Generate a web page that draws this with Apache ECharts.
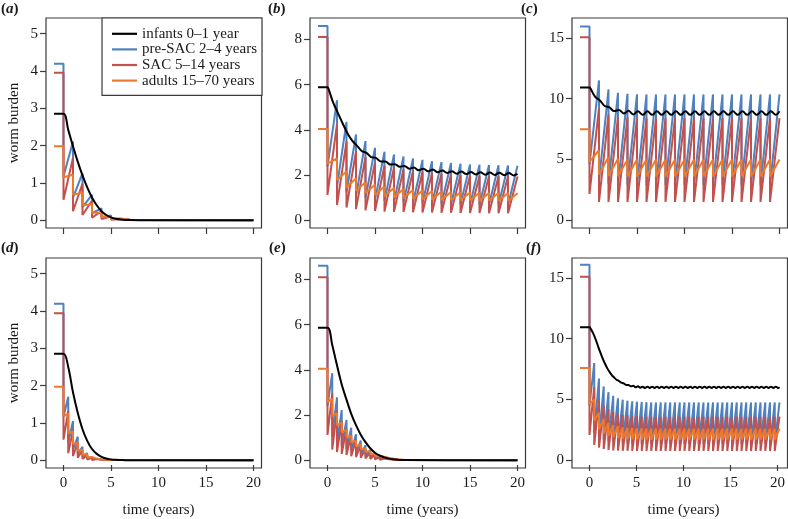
<!DOCTYPE html>
<html><head><meta charset="utf-8">
<script src="https://cdn.jsdelivr.net/npm/echarts@6/dist/echarts.min.js"></script>
<style>html,body{margin:0;padding:0;background:#fff}#c{width:788px;height:519px}</style>
</head><body><div id="c"></div><script>
// ---------- names & tick labels ----------
const seriesNames = ['infants 0–1 year', 'pre-SAC 2–4 years', 'SAC 5–14 years', 'adults 15–70 years'];
const panelLetters = ['a', 'b', 'c', 'd', 'e', 'f'];
const xTitle = 'time (years)';
const yTitle = 'worm burden';

// ---------- time points ----------
const yearTimes = [0,1,2,3,4,5,6,7,8,9,10,11,12,13,14,15,16,17,18,19,20];
const halfTimes = [0,0.5,1,1.5,2,2.5,3,3.5,4,4.5,5,5.5,6,6.5,7,7.5,8,8.5,9,9.5,10,10.5,11,11.5,12,12.5,13,13.5,14,14.5,15,15.5,16,16.5,17,17.5,18,18.5,19,19.5,20];
const smoothTimes = [-1,0,0.5,1,1.5,2,2.5,3,3.5,4,4.5,5,5.5,6,6.5,7,8,20];
const topWiggleTimes = [-1,0,0.1,0.6,1.1,1.6,2.1,2.6,3.1,3.6,4.1,4.6,5.1,5.6,6.1,6.6,7.1,7.6,8.1,8.6,9.1,9.6,10.1,10.6,11.1,11.6,12.1,12.6,13.1,13.6,14.1,14.6,15.1,15.6,16.1,16.6,17.1,17.6,18.1,18.6,19.1,19.6,20];
const bottomWiggleTimes = [-1,0,0.1,0.35,0.6,0.85,1.1,1.35,1.6,1.85,2.1,2.35,2.6,2.85,3.1,3.35,3.6,3.85,4.1,4.35,4.6,4.85,5.1,5.35,5.6,5.85,6.1,6.35,6.6,6.85,7.1,7.35,7.6,7.85,8.1,8.35,8.6,8.85,9.1,9.35,9.6,9.85,10.1,10.35,10.6,10.85,11.1,11.35,11.6,11.85,12.1,12.35,12.6,12.85,13.1,13.35,13.6,13.85,14.1,14.35,14.6,14.85,15.1,15.35,15.6,15.85,16.1,16.35,16.6,16.85,17.1,17.35,17.6,17.85,18.1,18.35,18.6,18.85,19.1,19.35,19.6,19.85,20];

// ---------- panel (a): annual, decaying ----------
const aInit = [2.85, 4.19, 3.95, 1.98];
const aBlack = [2.85,2.85,2.42,1.98,1.57,1.2,0.88,0.61,0.4,0.24,0.14,0.075,0.038,0.018,0.008,0.004,0.001,0];
const aBlueTrough = [1.17,0.6,0.35,0.19,0.09,0.035,0.012,0.004];
const aBluePeak = [2.11,1.26,0.68,0.32,0.13,0.045,0.015,0.005];
const aRedTrough = [0.55,0.24,0.14,0.07,0.03,0.012,0.004,0.001];
const aRedPeak = [1.67,0.98,0.52,0.24,0.1,0.035,0.012,0.004];
const aOrangeTrough = [1.15,0.68,0.4,0.2,0.09,0.035,0.012,0.004];
const aOrangePeak = [1.22,0.74,0.43,0.21,0.095,0.037,0.013,0.004];

// ---------- panel (b): annual, sustained ----------
const bInit = [5.88, 8.59, 8.10, 4.03];
const bBlack = [5.88,5.88,5.82,5.2,4.74,4.28,3.85,3.52,3.3,3.06,2.98,2.79,2.76,2.6,2.6,2.46,2.48,2.36,2.4,2.28,2.33,2.21,2.28,2.16,2.24,2.12,2.2,2.09,2.17,2.06,2.15,2.04,2.13,2.02,2.12,2.01,2.11,2.0,2.1,1.99,2.09,1.98,2.05];
const bBlueTrough = [2.37,1.49,1.22,1.06,0.98,0.9,0.85,0.81,0.79,0.76,0.75,0.73,0.72,0.71,0.7,0.69,0.68,0.68,0.68,0.67];
const bBluePeak = [5.31,4.35,3.79,3.5,3.2,3.03,2.91,2.82,2.73,2.67,2.61,2.57,2.53,2.5,2.47,2.45,2.44,2.43,2.42,2.41];
const bRedTrough = [1.12,0.67,0.56,0.49,0.44,0.41,0.38,0.37,0.36,0.35,0.34,0.34,0.33,0.33,0.32,0.32,0.32,0.31,0.31,0.31];
const bRedPeak = [4.25,3.48,3.03,2.8,2.56,2.42,2.33,2.26,2.18,2.14,2.09,2.06,2.02,2.0,1.98,1.96,1.95,1.94,1.94,1.93];
const bOrangeTrough = [2.5,1.78,1.45,1.3,1.2,1.12,1.06,1.02,0.98,0.95,0.93,0.91,0.9,0.89,0.88,0.87,0.86,0.86,0.85,0.85];
const bOrangePeak = [2.74,2.15,1.85,1.68,1.57,1.49,1.43,1.38,1.34,1.31,1.29,1.27,1.25,1.24,1.23,1.22,1.21,1.2,1.2,1.19];

// ---------- panel (c): annual, high transmission ----------
const cInit = [10.93, 15.95, 15.05, 7.49];
const cBlack = [10.93,10.93,10.85,10.15,9.85,9.4,9.28,8.98,9.08,8.78,9.0,8.7,8.97,8.67,8.97,8.67,8.97,8.67,8.97,8.67,8.97,8.67,8.97,8.67,8.97,8.67,8.97,8.67,8.97,8.67,8.97,8.67,8.97,8.67,8.97,8.67,8.97,8.67,8.97,8.67,8.97,8.67,8.97];
const cBlueTrough = [4.6,3.22,3.0,2.94,2.92,2.9,2.9,2.9,2.9,2.9,2.9,2.9,2.9,2.9,2.9,2.9,2.9,2.9,2.9,2.9];
const cBluePeak = [11.5,10.76,10.49,10.4,10.36,10.35,10.35,10.35,10.35,10.35,10.35,10.35,10.35,10.35,10.35,10.35,10.35,10.35,10.35,10.35];
const cRedTrough = [2.16,1.5,1.5,1.5,1.5,1.5,1.5,1.5,1.5,1.5,1.5,1.5,1.5,1.5,1.5,1.5,1.5,1.5,1.5,1.5];
const cRedPeak = [9.2,8.7,8.5,8.45,8.42,8.4,8.4,8.4,8.4,8.4,8.4,8.4,8.4,8.4,8.4,8.4,8.4,8.4,8.4,8.4];
const cOrangeTrough = [4.8,3.75,3.65,3.62,3.6,3.6,3.6,3.6,3.6,3.6,3.6,3.6,3.6,3.6,3.6,3.6,3.6,3.6,3.6,3.6];
const cOrangePeak = [5.76,5.2,5.05,5.0,5.0,5.0,5.0,5.0,5.0,5.0,5.0,5.0,5.0,5.0,5.0,5.0,5.0,5.0,5.0,5.0];

// ---------- panel (d): biannual, decaying ----------
const dInit = [2.85, 4.19, 3.94, 1.97];
const dBlack = [2.85,2.85,2.5,1.82,1.27,0.83,0.52,0.3,0.17,0.09,0.045,0.022,0.01,0.005,0.002,0.001,0,0];
const dBlueTrough = [1.16,0.47,0.28,0.17,0.1,0.05,0.025,0.012,0.005];
const dBluePeak = [1.7,1.05,0.63,0.36,0.19,0.09,0.04,0.018,0.007];
const dRedTrough = [0.55,0.19,0.11,0.065,0.035,0.018,0.008,0.003,0.001];
const dRedPeak = [1.32,0.8,0.48,0.27,0.14,0.07,0.03,0.012,0.004];
const dOrangeTrough = [1.18,0.72,0.44,0.26,0.15,0.08,0.04,0.02,0.01];
const dOrangePeak = [1.25,0.77,0.47,0.28,0.16,0.085,0.043,0.021,0.01];

// ---------- panel (e): biannual, decaying ----------
const eInit = [5.86, 8.6, 8.09, 4.05];
const eBlack = [5.86,5.86,5.1,4.2,3.35,2.68,2.05,1.55,1.13,0.8,0.53,0.33,0.2,0.12,0.07,0.04,0.01,0];
const eBlueTrough = [2.4,1.08,0.78,0.62,0.5,0.4,0.32,0.24,0.18,0.13,0.085,0.05,0.03,0.017,0.009,0.004];
const eBluePeak = [3.85,2.78,2.22,1.78,1.44,1.15,0.87,0.66,0.45,0.3,0.18,0.11,0.06,0.03,0.015,0.007];
const eRedTrough = [1.12,0.47,0.36,0.28,0.23,0.18,0.14,0.105,0.08,0.056,0.036,0.022,0.013,0.007,0.004,0.002];
const eRedPeak = [2.95,2.2,1.75,1.4,1.12,0.9,0.68,0.5,0.35,0.23,0.14,0.08,0.045,0.025,0.012,0.006];
const eOrangeTrough = [2.57,1.95,1.55,1.25,1.0,0.8,0.63,0.5,0.38,0.28,0.2,0.14,0.09,0.06,0.04,0.02];
const eOrangePeak = [2.72,2.08,1.66,1.33,1.07,0.86,0.68,0.53,0.41,0.3,0.21,0.15,0.1,0.065,0.042,0.022];

// ---------- panel (f): biannual, high transmission ----------
const fInit = [10.95, 16.08, 15.1, 7.58];
const fBlack = [10.95,10.95,10.85,10.5,10.05,9.5,8.95,8.45,8.0,7.6,7.28,7.0,6.8,6.62,6.52,6.38,6.32,6.2,6.2,6.08,6.12,6.01,6.08,5.97,
  6.05,5.94,6.05,5.94,6.05,5.94,6.05,5.94,6.05,5.94,6.05,5.94,6.05,5.94,6.05,5.94,6.05,5.94,6.05,5.94,
  6.05,5.94,6.05,5.94,6.05,5.94,6.05,5.94,6.05,5.94,6.05,5.94,6.05,5.94,6.05,5.94,6.05,5.94,6.05,5.94,
  6.05,5.94,6.05,5.94,6.05,5.94,6.05,5.94,6.05,5.94,6.05,5.94,6.05,5.94,6.05,5.94,6.05,5.94,6.0];
const fBlueTrough = [4.5,2.24,1.88,1.7,1.57,1.48,1.43,1.39,1.37,1.36,1.34,1.34,1.34,1.34,1.34,1.34,1.34,1.34,1.34,1.34,1.34,1.34,1.34,1.34,1.34,1.34,1.34,1.34,1.34,1.34,1.34,1.34,1.34,1.34,1.34,1.34,1.34,1.34,1.34,1.34];
const fBluePeak = [8.0,6.72,6.07,5.6,5.3,5.1,4.98,4.9,4.85,4.82,4.8,4.78,4.76,4.76,4.76,4.76,4.76,4.76,4.76,4.76,4.76,4.76,4.76,4.76,4.76,4.76,4.76,4.76,4.76,4.76,4.76,4.76,4.76,4.76,4.76,4.76,4.76,4.76,4.76,4.76];
const fRedTrough = [2.08,1.26,1.04,0.93,0.85,0.81,0.79,0.78,0.77,0.76,0.76,0.76,0.76,0.76,0.76,0.76,0.76,0.76,0.76,0.76,0.76,0.76,0.76,0.76,0.76,0.76,0.76,0.76,0.76,0.76,0.76,0.76,0.76,0.76,0.76,0.76,0.76,0.76,0.76,0.76];
const fRedPeak = [6.0,5.0,4.5,4.2,3.95,3.82,3.73,3.68,3.64,3.62,3.6,3.58,3.58,3.58,3.58,3.58,3.58,3.58,3.58,3.58,3.58,3.58,3.58,3.58,3.58,3.58,3.58,3.58,3.58,3.58,3.58,3.58,3.58,3.58,3.58,3.58,3.58,3.58,3.58,3.58];
const fOrangeTrough = [4.6,3.25,2.55,2.2,2.02,1.9,1.82,1.77,1.74,1.72,1.71,1.7,1.7,1.7,1.7,1.7,1.7,1.7,1.7,1.7,1.7,1.7,1.7,1.7,1.7,1.7,1.7,1.7,1.7,1.7,1.7,1.7,1.7,1.7,1.7,1.7,1.7,1.7,1.7,1.7];
const fOrangePeak = [5.0,3.9,3.4,3.1,2.9,2.8,2.72,2.67,2.64,2.62,2.61,2.6,2.6,2.6,2.6,2.6,2.6,2.6,2.6,2.6,2.6,2.6,2.6,2.6,2.6,2.6,2.6,2.6,2.6,2.6,2.6,2.6,2.6,2.6,2.6,2.6,2.6,2.6,2.6,2.6];

// ---------- y axis settings ----------
const yTicksSmall = {top: 5, step: 1, lim: 5.21};
const yTicksMid = {top: 8, step: 2, lim: 8.6};
const yTicksBig = {top: 15, step: 5, lim: 16.0};

// ---------- build ----------
const COLORS = ['#000000', '#4f81bf', '#c2504c', '#ec7a2e'];
const FONT = '"Liberation Serif", "Times New Roman", serif';
const TXT = '#1a1a1a', BOX = '#3a3a3a';
const XMIN = -1.84, XMAX = 20.84;
const colL = [46, 310, 572], W = 215.5;
const rowT = [18, 258], H = 210;

const panels = [
  {init:aInit, treat:yearTimes, bt:smoothTimes, black:aBlack, teeth:[[aBlueTrough,aBluePeak],[aRedTrough,aRedPeak],[aOrangeTrough,aOrangePeak]], y:yTicksSmall},
  {init:bInit, treat:yearTimes, bt:topWiggleTimes, black:bBlack, teeth:[[bBlueTrough,bBluePeak],[bRedTrough,bRedPeak],[bOrangeTrough,bOrangePeak]], y:yTicksMid},
  {init:cInit, treat:yearTimes, bt:topWiggleTimes, black:cBlack, teeth:[[cBlueTrough,cBluePeak],[cRedTrough,cRedPeak],[cOrangeTrough,cOrangePeak]], y:yTicksBig},
  {init:dInit, treat:halfTimes, bt:smoothTimes, black:dBlack, teeth:[[dBlueTrough,dBluePeak],[dRedTrough,dRedPeak],[dOrangeTrough,dOrangePeak]], y:yTicksSmall},
  {init:eInit, treat:halfTimes, bt:smoothTimes, black:eBlack, teeth:[[eBlueTrough,eBluePeak],[eRedTrough,eRedPeak],[eOrangeTrough,eOrangePeak]], y:yTicksMid},
  {init:fInit, treat:halfTimes, bt:bottomWiggleTimes, black:fBlack, teeth:[[fBlueTrough,fBluePeak],[fRedTrough,fRedPeak],[fOrangeTrough,fOrangePeak]], y:yTicksBig}
];

function toothData(init, times, tr, pk) {
  const d = [[-1, init], [0, init]];
  for (let k = 0; k < tr.length; k++) {
    d.push([times[k], tr[k]]);
    d.push([times[k + 1], pk[k]]);
  }
  const n = tr.length;
  if (times[n] < 20) { d.push([times[n], 0]); d.push([20, 0]); }
  return d;
}
function pairData(ts, vs) { return ts.map((t, i) => [t, vs[i]]); }

const grid = [], xAxis = [], yAxis = [], series = [], title = [];
const letterPos = [[1, 2], [268, 2], [521, 2], [1, 241], [269, 241], [526, 241]];
const hiddenAxis = (gi) => ({gridIndex: gi, type: 'value', min: 0, max: 1, show: false});
const tickStyle = {show: true, length: 6, lineStyle: {color: BOX, width: 1.2}};
const labelStyle = (show, margin) => ({show: show, margin: margin, fontFamily: FONT, fontSize: 15, color: TXT});

panels.forEach((p, i) => {
  const row = Math.floor(i / 3), col = i % 3;
  const L = colL[col], T = rowT[row];
  const y0 = -0.04 * p.y.lim, y1 = 1.04 * p.y.lim;
  // data grid (the box)
  const gData = grid.length;
  grid.push({left: L, top: T, width: W, height: H, show: true, borderColor: BOX, borderWidth: 1.2, backgroundColor: 'transparent'});
  xAxis.push({gridIndex: gData, type: 'value', min: XMIN, max: XMAX, show: false});
  yAxis.push({gridIndex: gData, type: 'value', min: y0, max: y1,
    axisLine: {show: false}, axisTick: {show: false}, axisLabel: {show: false}, splitLine: {show: false},
    name: col === 0 ? yTitle : '', nameLocation: 'middle', nameGap: 24,
    nameTextStyle: {fontFamily: FONT, fontSize: 15, color: TXT}});
  const xData = xAxis.length - 1, yData = yAxis.length - 1;
  // x tick grid: spans 0..20 horizontally, full box height
  const aL = L + (0 - XMIN) / (XMAX - XMIN) * W;
  const aW = 20 / (XMAX - XMIN) * W;
  const gx = grid.length;
  grid.push({left: aL, top: T, width: aW, height: H, show: false});
  xAxis.push({gridIndex: gx, type: 'value', min: 0, max: 20, interval: 5, position: 'bottom',
    axisLine: {show: false}, axisTick: tickStyle, axisLabel: labelStyle(row === 1, 11), splitLine: {show: false},
    name: row === 1 ? xTitle : '', nameLocation: 'middle', nameGap: 38,
    nameTextStyle: {fontFamily: FONT, fontSize: 15, color: TXT}});
  yAxis.push(hiddenAxis(gx));
  // y tick grid: spans 0..top vertically, full box width
  const aT = T + (y1 - p.y.top) / (y1 - y0) * H;
  const aH = p.y.top / (y1 - y0) * H;
  const gy = grid.length;
  grid.push({left: L, top: aT, width: W, height: aH, show: false});
  xAxis.push(hiddenAxis(gy));
  yAxis.push({gridIndex: gy, type: 'value', min: 0, max: p.y.top, interval: p.y.step, position: 'left',
    axisLine: {show: false}, axisTick: tickStyle, axisLabel: labelStyle(true, 8), splitLine: {show: false}});
  // series: blue, red, orange, then black on top
  p.teeth.forEach((tp, j) => {
    series.push({type: 'line', name: seriesNames[j + 1], xAxisIndex: xData, yAxisIndex: yData,
      data: toothData(p.init[j + 1], p.treat, tp[0], tp[1]),
      symbol: 'none', showSymbol: false, animation: false, silent: true,
      lineStyle: {color: COLORS[j + 1], width: 2}, itemStyle: {color: COLORS[j + 1]}});
  });
  series.push({type: 'line', name: seriesNames[0], xAxisIndex: xData, yAxisIndex: yData,
    data: pairData(p.bt, p.black), smooth: 0.35,
    symbol: 'none', showSymbol: false, animation: false, silent: true,
    lineStyle: {color: COLORS[0], width: 2}, itemStyle: {color: COLORS[0]}});
  title.push({text: '{p|(}{i|' + panelLetters[i] + '}{p|)}', left: letterPos[i][0], top: letterPos[i][1], padding: 0,
    textStyle: {rich: {p: {fontFamily: FONT, fontSize: 15, color: TXT}, i: {fontFamily: FONT, fontSize: 15, fontStyle: 'italic', color: TXT}}}});
});

const option = {
  animation: false,
  backgroundColor: '#ffffff',
  title: title,
  grid: grid,
  xAxis: xAxis,
  yAxis: yAxis,
  legend: {
    orient: 'vertical', right: 788 - 262, top: 18,
    data: seriesNames.map(n => ({name: n, icon: 'rect'})),
    itemWidth: 25, itemHeight: 2.2, itemGap: 0,
    padding: [8, 5, 7, 10],
    borderColor: BOX, borderWidth: 1.2, backgroundColor: '#ffffff',
    selectedMode: false,
    textStyle: {fontFamily: FONT, fontSize: 15, lineHeight: 15.6, color: TXT}
  },
  series: series
};
const chart = echarts.init(document.getElementById('c'), null, {renderer: 'canvas'});
chart.setOption(option);
</script></body></html>
